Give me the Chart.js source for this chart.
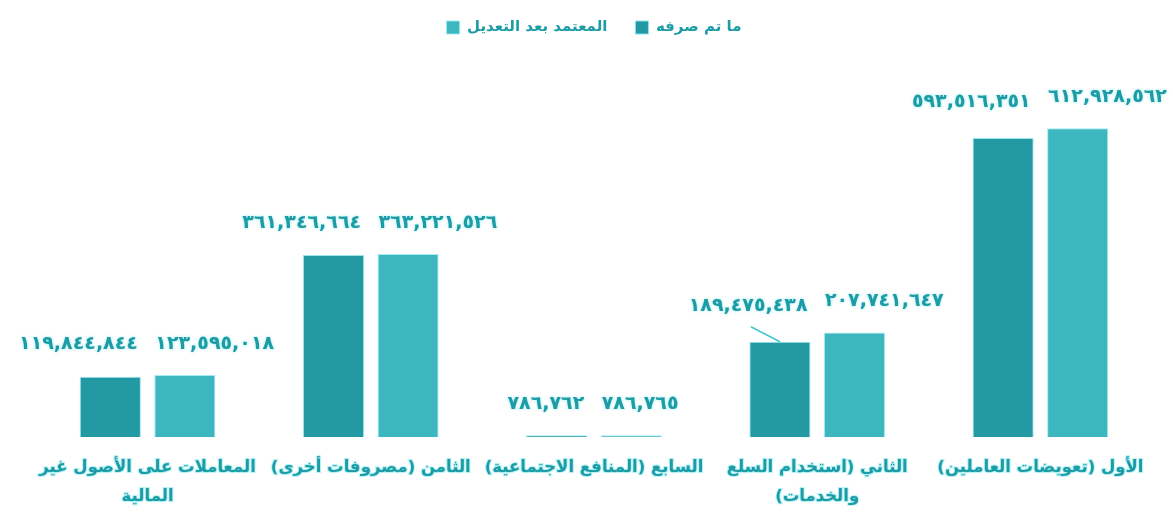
<!DOCTYPE html>
<html dir="rtl" lang="ar">
<head>
<meta charset="utf-8">
<script src="https://cdn.jsdelivr.net/npm/chart.js@4.4.0/dist/chart.umd.min.js"></script>
<style>
html,body{margin:0;padding:0;background:#fff;overflow:hidden;}
#wrap{position:relative;width:1173px;height:532px;}
</style>
</head>
<body>
<div id="wrap"><canvas id="c" width="1173" height="532"></canvas></div>
<script>
// ---- data ----
const categories = [
  ['المعاملات على الأصول غير', 'المالية'],
  'الثامن (مصروفات أخرى)',
  'السابع (المنافع الاجتماعية)',
  ['الثاني (استخدام السلع', 'والخدمات)'],
  'الأول (تعويضات العاملين)'
];
const spentValues    = [119844844, 361346664, 786762, 189475438, 593516351];
const approvedValues = [123595018, 363221526, 786765, 207741647, 612928562];
const seriesNames    = ['ما تم صرفه', 'المعتمد بعد التعديل'];

// ---- style ----
const DARK = '#239aa3';
const LIGHT = '#3eb6bf';
const TEXT = '#1d9ca6';
const GLOW = 'rgba(130,232,240,0.85)';
const FONT = '"DejaVu Sans", sans-serif';
const leaderLineIndex = 3;

const AR_DIGITS = ['٠','١','٢','٣','٤','٥','٦','٧','٨','٩'];
function arNum(v){
  return Math.round(v).toLocaleString('en-US').replace(/[0-9]/g, d => AR_DIGITS[+d]);
}

const valueLabels = {
  id: 'valueLabels',
  afterDatasetsDraw(chart){
    const ctx = chart.ctx;
    const m0 = chart.getDatasetMeta(0), m1 = chart.getDatasetMeta(1);
    ctx.save();
    ctx.font = 'bold 19px ' + FONT;
    ctx.direction = 'ltr';
    ctx.textBaseline = 'middle';
    ctx.fillStyle = TEXT;
    ctx.shadowColor = GLOW;
    ctx.shadowBlur = 3;
    for (let i = 0; i < categories.length; i++){
      const b0 = m0.data[i], b1 = m1.data[i];
      const groupTop = Math.min(b0.y, b1.y);
      const y1 = groupTop - 31;
      const y0 = Math.max(b0.y - 36, groupTop - 31);
      ctx.textAlign = 'right';
      ctx.fillText(arNum(spentValues[i]), b0.x + b0.width/2 - 3, y0);
      ctx.textAlign = 'left';
      ctx.fillText(arNum(approvedValues[i]), b1.x - b1.width/2 + 1, y1);
      if (i === leaderLineIndex){
        ctx.save();
        ctx.shadowBlur = 0;
        ctx.strokeStyle = '#45c6d0';
        ctx.lineWidth = 1.5;
        ctx.beginPath();
        ctx.moveTo(b0.x, b0.y);
        ctx.lineTo(b0.x - 29, b0.y - 15);
        ctx.stroke();
        ctx.restore();
      }
    }
    ctx.restore();
  }
};

new Chart(document.getElementById('c'), {
  type: 'bar',
  data: {
    labels: categories,
    datasets: [
      { label: seriesNames[0], data: spentValues, backgroundColor: DARK,
        borderColor: 'rgba(140,228,236,0.9)', borderWidth: 1, borderSkipped: 'start', minBarLength: 2 },
      { label: seriesNames[1], data: approvedValues, backgroundColor: LIGHT,
        borderColor: 'rgba(150,236,242,0.9)', borderWidth: 1, borderSkipped: 'start', minBarLength: 2 }
    ]
  },
  options: {
    responsive: false,
    animation: false,
    devicePixelRatio: 1,
    layout: { padding: { top: -8, left: 36, right: 21, bottom: 5 } },
    datasets: { bar: { categoryPercentage: 0.668, barPercentage: 0.82 } },
    plugins: {
      legend: {
        position: 'top',
        reverse: true,
        rtl: false,
        labels: {
          boxWidth: 13, boxHeight: 13, padding: 28,
          color: TEXT,
          font: { family: FONT, size: 15, weight: 'bold' }
        }
      },
      tooltip: { enabled: false }
    },
    scales: {
      x: {
        grid: { display: false, drawTicks: false },
        border: { display: false },
        ticks: {
          color: TEXT,
          autoSkip: false, maxRotation: 0, minRotation: 0,
          padding: 16,
          textStrokeColor: 'rgba(150,235,242,0.7)',
          textStrokeWidth: 2,
          font: { family: FONT, size: 16.5, weight: 'bold', lineHeight: 1.75 }
        }
      },
      y: {
        display: false,
        min: 0,
        max: 778000000
      }
    }
  },
  plugins: [valueLabels]
});
</script>
</body>
</html>
